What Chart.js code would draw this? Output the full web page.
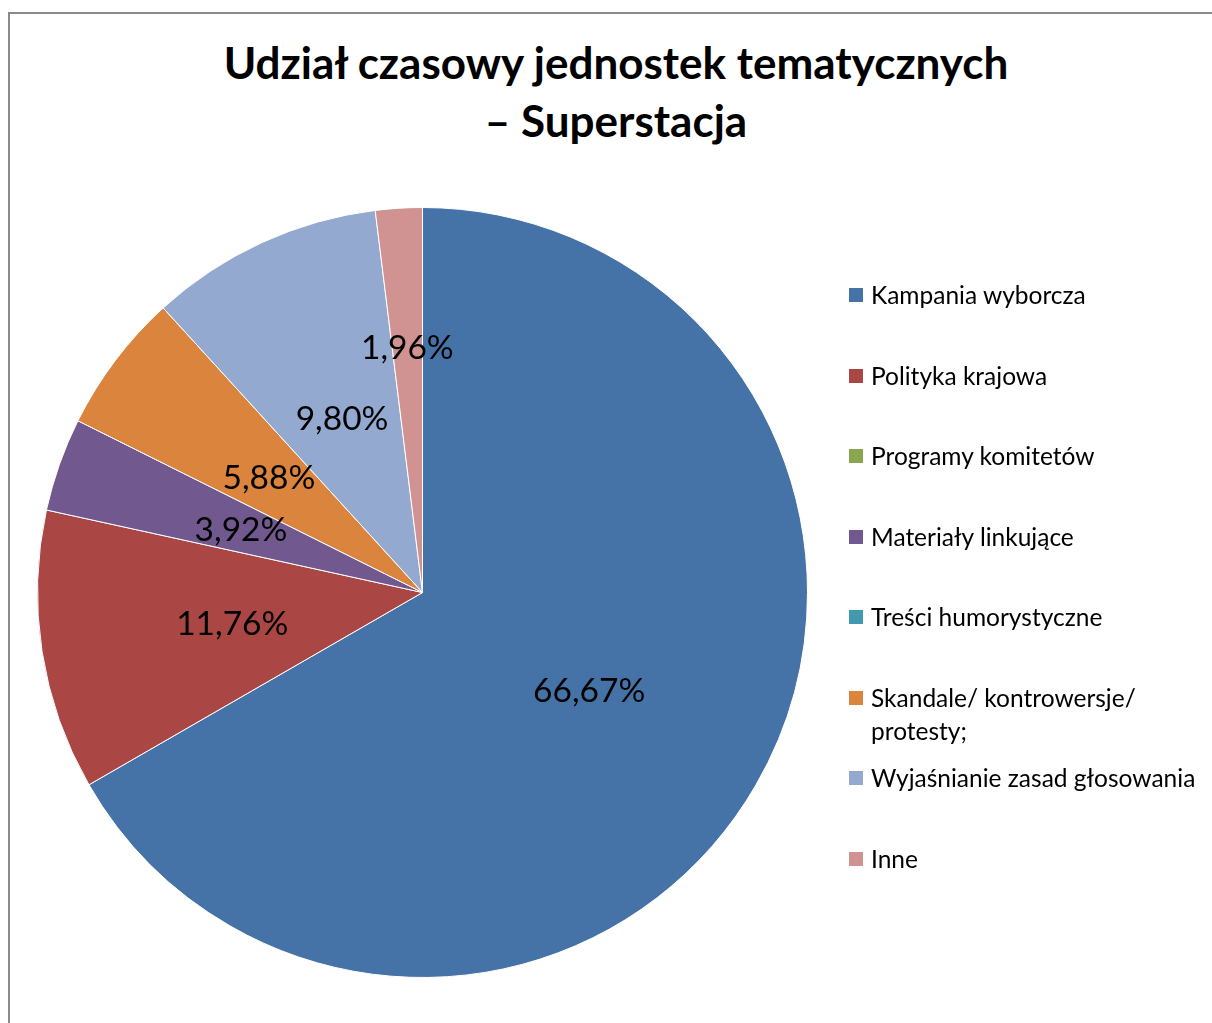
<!DOCTYPE html>
<html lang="pl">
<head>
    <meta charset="UTF-8">
    <title>Udział czasowy jednostek tematycznych – Superstacja</title>
    <script src="https://cdn.jsdelivr.net/npm/chart.js@4.4.0/dist/chart.umd.min.js"></script>
    <style>
        body { margin: 0; background: #fff; font-family: Lato, "Open Sans", sans-serif; }
        #wrap { position: relative; width: 1212px; height: 1023px; overflow: hidden; }
        #frame { position: absolute; left: 8px; top: 12px; width: 1300px; height: 1100px;
                 border-top: 2px solid #8a8a8a; border-left: 2px solid #8a8a8a; }
        #title { position: absolute; left: 10px; width: 1212px; top: 33px; text-align: center;
                 font-weight: bold; font-size: 44px; line-height: 58px; color: #000; }
        #chartBox { position: absolute; left: 0; top: 0; width: 1212px; height: 1023px; }
        #legend { position: absolute; left: 849px; top: 255px; }
        .item { height: 80.5px; display: flex; align-items: flex-start; position: relative; }
        .box { width: 14px; height: 14px; margin-top: 33px; margin-right: 8px; flex: none; }
        .txt { font-size: 24.5px; line-height: 33px; margin-top: 23px; white-space: pre-line; color: #000; }
    </style>
</head>
<body>
<div id="wrap">
    <div id="frame"></div>
    <div id="title">Udział czasowy jednostek tematycznych<br>– Superstacja</div>
    <div id="chartBox"><canvas id="pie"></canvas></div>
    <div id="legend"></div>
</div>
<script>
    // categories and shares (%)
    const categories = [
        'Kampania wyborcza',
        'Polityka krajowa',
        'Programy komitetów',
        'Materiały linkujące',
        'Treści humorystyczne',
        'Skandale/ kontrowersje/\nprotesty;',
        'Wyjaśnianie zasad głosowania',
        'Inne'
    ];
    const shares = [66.67, 11.76, 0, 3.92, 0, 5.88, 9.80, 1.96];
    const colors = ['#4572A7', '#AA4643', '#89A54E', '#71588F', '#4198AF', '#DB843D', '#93A9CF', '#D19392'];
    // how far out (fraction of radius) each value label sits
    const labelRadius = [0.5, 0.5, 0.5, 0.5, 0.5, 0.5, 0.5, 0.64];

    const valueLabels = {
        id: 'valueLabels',
        afterDatasetsDraw(chart) {
            const ctx = chart.ctx;
            const meta = chart.getDatasetMeta(0);
            ctx.save();
            ctx.font = '33.5px Lato, "Open Sans", sans-serif';
            ctx.fillStyle = '#000';
            ctx.textAlign = 'center';
            ctx.textBaseline = 'middle';
            meta.data.forEach((arc, i) => {
                if (!shares[i]) return;
                const p = arc.getProps(['x', 'y', 'startAngle', 'endAngle', 'outerRadius'], true);
                const mid = (p.startAngle + p.endAngle) / 2;
                const r = p.outerRadius * labelRadius[i];
                const txt = shares[i].toFixed(2).replace('.', ',') + '%';
                ctx.fillText(txt, p.x + Math.cos(mid) * r, p.y + Math.sin(mid) * r + 2);
            });
            ctx.restore();
        }
    };

    new Chart(document.getElementById('pie'), {
        type: 'pie',
        data: {
            labels: categories,
            datasets: [{
                data: shares,
                backgroundColor: colors,
                borderColor: '#ffffff',
                borderWidth: 1
            }]
        },
        options: {
            responsive: true,
            maintainAspectRatio: false,
            animation: false,
            layout: { padding: { left: 37, top: 207, right: 404, bottom: 45 } },
            plugins: { legend: { display: false }, tooltip: { enabled: false } }
        },
        plugins: [valueLabels]
    });

    const legend = document.getElementById('legend');
    categories.forEach((c, i) => {
        const item = document.createElement('div');
        item.className = 'item';
        item.innerHTML = '<div class="box" style="background:' + colors[i] + '"></div><div class="txt"></div>';
        item.querySelector('.txt').textContent = c;
        legend.appendChild(item);
    });
</script>
</body>
</html>
